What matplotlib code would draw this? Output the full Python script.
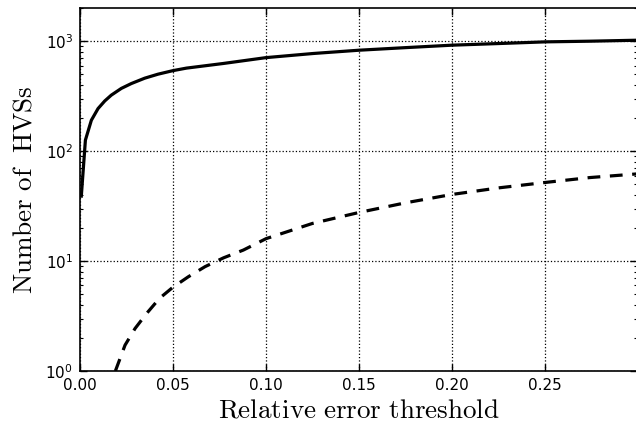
import matplotlib
matplotlib.use('Agg')
import matplotlib.pyplot as plt
from matplotlib.ticker import FixedLocator, FormatStrFormatter

plt.rcParams['mathtext.fontset'] = 'cm'

# number of HVSs above each relative error threshold (all candidates)
thr_all = [0.0007, 0.0029, 0.0061, 0.0097, 0.0133, 0.0168, 0.0222, 0.0276,
           0.0348, 0.0419, 0.05, 0.0572, 0.077, 0.1, 0.1254, 0.15, 0.1756,
           0.2, 0.2258, 0.25, 0.274, 0.3]
n_all = [39, 126, 191, 244, 286, 323, 372, 412, 461, 501, 540, 569, 627,
         709, 773, 828, 875, 920, 953, 986, 1000, 1021]

# number of HVSs in the selected subsample
thr_sel = [0.019, 0.0242, 0.0296, 0.0358, 0.0427, 0.0498, 0.0582, 0.0672,
           0.0771, 0.0878, 0.1, 0.1249, 0.15, 0.175, 0.2, 0.2253, 0.25,
           0.274, 0.3]
n_sel = [1.0, 1.72, 2.44, 3.34, 4.58, 5.76, 7.2, 8.9, 10.7, 12.6, 16.0,
         22.0, 27.7, 33.9, 40.4, 46.4, 51.9, 57.5, 62.2]

fig = plt.figure(figsize=(6.36, 4.26), dpi=100)
ax = fig.add_axes([0.1258, 0.129, 0.8762, 0.852])

ax.plot(thr_all, n_all, color='k', lw=2.3)
ax.plot(thr_sel, n_sel, color='k', lw=2.3, ls='--', dashes=(4, 3))

ax.set_yscale('log')
ax.set_xlim(0, 0.2995)
ax.set_ylim(1, 2000)
ax.xaxis.set_major_locator(FixedLocator([0, 0.05, 0.1, 0.15, 0.2, 0.25]))
ax.xaxis.set_major_formatter(FormatStrFormatter('%.2f'))

ax.grid(True, color='k', ls=':', lw=0.9)
ax.tick_params(which='both', direction='in', top=True, right=True,
               labelsize=11, pad=5)
ax.tick_params(which='major', length=5, width=1)
ax.tick_params(which='minor', length=2.5, width=0.8)
for s in ax.spines.values():
    s.set_linewidth(1.2)

ax.set_xlabel(r'$\mathrm{Relative\ error\ threshold}$', fontsize=19.5, labelpad=3)
ax.set_ylabel(r'$\mathrm{Number\ of\ \ HVSs}$', fontsize=19.5, labelpad=6)

fig.savefig('out.png', dpi=100)
